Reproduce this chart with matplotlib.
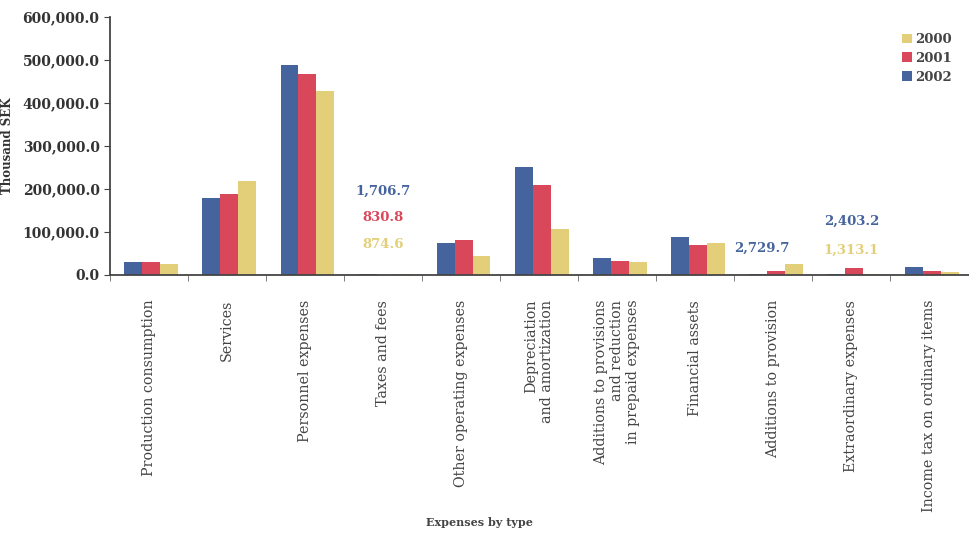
import numpy as np
import matplotlib.pyplot as plt
from matplotlib.ticker import FuncFormatter

plt.rcParams['font.family'] = 'DejaVu Serif'

categories = ['Production consumption', 'Services', 'Personnel expenses',
              'Taxes and fees', 'Other operating expenses',
              'Depreciation\nand amortization',
              'Additions to provisions\nand reduction\nin prepaid expenses',
              'Financial assets', 'Additions to provision',
              'Extraordinary expenses', 'Income tax on ordinary items']

# thousand SEK per expense type
y2002 = [30000, 178000, 488000, 1706.7, 75000, 252000, 39000, 88000, 2729.7, 2403.2, 19000]
y2001 = [31000, 189000, 467000, 830.8, 82000, 208000, 33000, 70000, 8000, 16000, 8000]
y2000 = [25000, 218000, 427000, 874.6, 43000, 107000, 31000, 75000, 26000, 1313.1, 6000]

blue = '#45649e'
red = '#d8485a'
yellow = '#e3cf7a'

fig = plt.figure(figsize=(9.69, 5.4), dpi=100)
ax = fig.add_axes([0.1135, 0.491, 0.886, 0.4775])

x = np.arange(len(categories))
w = 0.23
ax.bar(x - w + 0.03, y2002, w, color=blue, label='2002')
ax.bar(x + 0.03, y2001, w, color=red, label='2001')
ax.bar(x + w + 0.03, y2000, w, color=yellow, label='2000')

ax.set_xlim(-0.5, len(categories) - 0.5)
ax.set_ylim(0, 600000)
ax.set_yticks(np.arange(0, 600001, 100000))
ax.yaxis.set_major_formatter(FuncFormatter(lambda v, p: f'{v:,.1f}'))
for lab in ax.get_yticklabels():
    lab.set_fontweight('bold')
    lab.set_fontsize(10)
    lab.set_color('#333333')

ax.set_xticks(x)
ax.set_xticklabels(categories, rotation=90, fontsize=10.3, color='#444444',
                   va='top', ha='center', multialignment='right')
ax.tick_params(axis='x', which='major', length=0, pad=18)
ax.set_xticks(np.arange(-0.5, len(categories), 1), minor=True)
ax.tick_params(axis='x', which='minor', length=4, color='#666666')
ax.tick_params(axis='y', length=4, color='#444444')

for side in ['top', 'right']:
    ax.spines[side].set_visible(False)
for side in ['left', 'bottom']:
    ax.spines[side].set_color('#444444')
    ax.spines[side].set_linewidth(1.3)

# small values that would not show as bars
ax.text(3, 194000, f'{y2002[3]:,.1f}', color=blue, ha='center', va='center', fontsize=9.5, fontweight='bold')
ax.text(3, 133000, f'{y2001[3]:,.1f}', color=red, ha='center', va='center', fontsize=9.5, fontweight='bold')
ax.text(3, 70000, f'{y2000[3]:,.1f}', color=yellow, ha='center', va='center', fontsize=9.5, fontweight='bold')
ax.text(7.85, 63000, f'{y2002[8]:,.1f}', color=blue, ha='center', va='center', fontsize=9.5, fontweight='bold')
ax.text(9.0, 124000, f'{y2002[9]:,.1f}', color=blue, ha='center', va='center', fontsize=9.5, fontweight='bold')
ax.text(9.0, 58000, f'{y2000[9]:,.1f}', color=yellow, ha='center', va='center', fontsize=9.5, fontweight='bold')

ax.set_ylabel('Thousand SEK', fontsize=8.5, fontweight='bold', color='#333333', labelpad=6)
fig.text(0.495, 0.033, 'Expenses by type', ha='center', va='center', fontsize=8, fontweight='bold', color='#444444')

handles, labels = ax.get_legend_handles_labels()
leg = ax.legend(handles[::-1], labels[::-1], loc='upper right', bbox_to_anchor=(0.995, 0.985),
                frameon=False, handlelength=0.7, handleheight=0.7, handletextpad=0.3,
                labelspacing=0.45, prop={'size': 9.5, 'weight': 'bold'})
for t in leg.get_texts():
    t.set_color('#444444')

fig.savefig('out.png', dpi=100)
